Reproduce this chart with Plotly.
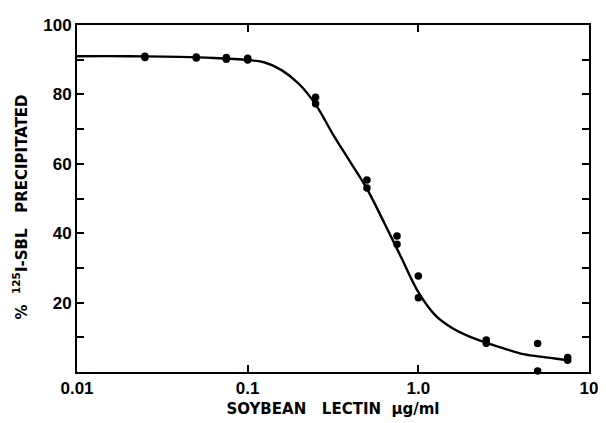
import plotly.graph_objects as go

# measured data points (SBL concentration, % precipitated)
conc = [0.025, 0.025, 0.05, 0.05, 0.075, 0.075, 0.1, 0.1,
        0.25, 0.25, 0.5, 0.5, 0.75, 0.75, 1.0, 1.0,
        2.5, 2.5, 5.0, 5.0, 7.5, 7.5]
pct = [91.0, 90.6, 90.8, 90.5, 90.6, 90.1, 90.4, 89.9,
       79.2, 77.3, 55.3, 53.0, 39.2, 36.8, 27.7, 21.4,
       9.2, 8.3, 8.2, 0.3, 4.2, 3.4]

# fitted curve
curve_x = [0.01, 0.02, 0.04, 0.063, 0.1, 0.126, 0.158, 0.2, 0.251, 0.316,
           0.398, 0.501, 0.631, 0.794, 1.0, 1.259, 1.585, 1.995, 2.512,
           3.162, 3.981, 5.012, 6.31, 7.5]
curve_y = [91.0, 91.0, 90.8, 90.5, 89.9, 89.2, 87.0, 83.0, 77.0, 68.5,
           60.6, 52.7, 43.0, 33.0, 23.0, 16.3, 12.6, 10.2, 8.4,
           6.8, 5.3, 4.5, 3.9, 3.4]

x_ticks = [0.01, 0.1, 1, 10]
x_ticktext = ["0.01", "0.1", "1.0", "10"]
y_ticks = [20, 40, 60, 80, 100]

tick_font = "Liberation Sans, Arial, sans-serif"
title_font = "DejaVu Sans, sans-serif"

fig = go.Figure()
fig.add_trace(go.Scatter(x=curve_x, y=curve_y, mode="lines",
                         line=dict(color="black", width=2.4, shape="spline", smoothing=1.0),
                         hoverinfo="skip", showlegend=False))
fig.add_trace(go.Scatter(x=conc, y=pct, mode="markers",
                         marker=dict(color="black", size=7.5),
                         showlegend=False, cliponaxis=False))

# page body adds an 8px offset, so the figure is 8px smaller than the window
fig.update_layout(
    width=598, height=415,
    margin=dict(l=69, r=9, t=8, b=51),
    paper_bgcolor="white", plot_bgcolor="white",
    font=dict(family=tick_font, color="black"),
)
fig.update_xaxes(
    type="log", range=[-2, 1],
    tickvals=x_ticks, ticktext=x_ticktext,
    ticks="inside", ticklen=7, tickwidth=1.5, tickcolor="black",
    showline=True, linecolor="black", linewidth=2, mirror="ticks",
    showgrid=False, zeroline=False,
    tickfont=dict(size=17, family=tick_font, weight="bold"),
    title=dict(text="SOYBEAN&nbsp;&nbsp; LECTIN&nbsp; μg/ml",
               font=dict(size=15, family=title_font, weight="bold"), standoff=6),
)
fig.update_yaxes(
    range=[0, 100],
    tickvals=y_ticks,
    ticks="inside", ticklen=7, tickwidth=1.5, tickcolor="black",
    minor=dict(dtick=10, tick0=0, ticks="inside", ticklen=7, tickwidth=1.5, tickcolor="black"),
    showline=True, linecolor="black", linewidth=2, mirror="ticks",
    showgrid=False, zeroline=False,
    tickfont=dict(size=17, family=tick_font, weight="bold"),
)
fig.add_annotation(
    text="%&nbsp; <sup>125</sup>I-SBL&nbsp;&nbsp; PRECIPITATED",
    xref="paper", yref="paper", x=0, y=0.5, xanchor="center", yanchor="middle",
    xshift=-57, yshift=-9, textangle=-90, showarrow=False,
    font=dict(size=15, family=title_font, weight="bold", color="black"),
)

fig.write_html("out.html")
